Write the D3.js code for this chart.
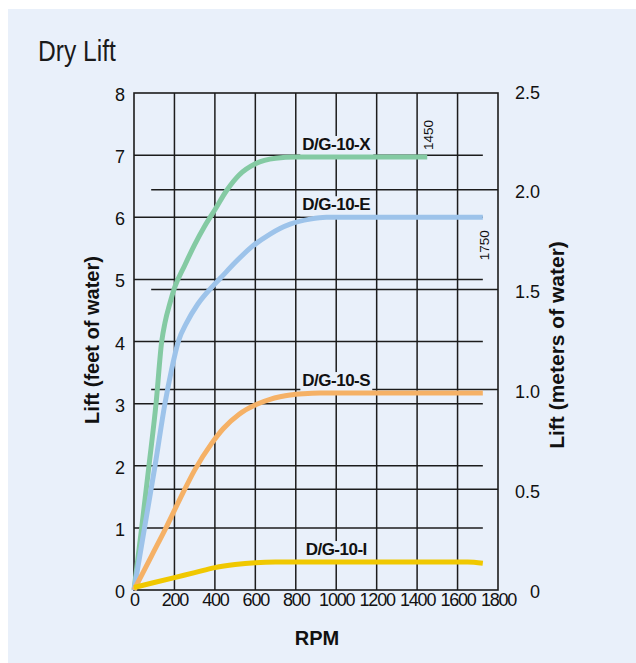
<!DOCTYPE html>
<html><head><meta charset="utf-8">
<script src="https://cdn.jsdelivr.net/npm/d3@7"></script>
<style>
html,body{margin:0;padding:0;background:#fff;}
svg{display:block;font-family:"Liberation Sans",Arial,Helvetica,sans-serif;}
</style></head>
<body>
<svg id="chart" width="636" height="663"></svg>
<script>
// ---- data ----
const rpmTicks = [0,200,400,600,800,1000,1200,1400,1600,1800];
const feetTicks = [0,1,2,3,4,5,6,7,8];
const meterTicks = [0,0.5,1.0,1.5,2.0,2.5];

const seriesNames = ["D/G-10-X","D/G-10-E","D/G-10-S","D/G-10-I"];
const seriesColors = ["#84caa3","#9dc3ea","#f5b166","#f0c800"];

const rpmX  = [0,38,74,109,137,153,178,200,250,300,350,400,458,520,600,700,800,1450];
const liftX = [0,1.0,2.0,3.0,4.0,4.3,4.62,4.86,5.22,5.56,5.86,6.12,6.43,6.68,6.86,6.95,6.97,6.97];

const rpmE  = [0,52,104,153,186,219,260,315,392,430,500,573,673,722,772,871,950,1725];
const liftE = [0,1.0,2.0,3.0,3.55,4.0,4.3,4.6,4.9,5.03,5.27,5.5,5.73,5.82,5.89,5.97,6.0,6.0];

const rpmS  = [0,87,158,228,300,384,442,520,607,673,722,772,838,920,1725];
const liftS = [0,0.55,1.0,1.47,1.93,2.36,2.6,2.83,2.99,3.07,3.11,3.14,3.16,3.17,3.17];

const rpmI  = [0,100,200,300,400,500,600,700,1000,1500,1650,1725];
const liftI = [0.04,0.12,0.2,0.28,0.36,0.41,0.44,0.45,0.45,0.45,0.45,0.43];

const endLabels = ["1450","1750"];

// ---- layout ----
const svg = d3.select("#chart");
const BG = "#e9f0fa", INK = "#1c1c1c";
const L = 134, R = 498, T = 93, B = 590;

svg.append("rect").attr("x",8).attr("y",9).attr("width",636-8).attr("height",663-9).attr("fill",BG);

const x = d3.scaleLinear().domain([0,1800]).range([L,R]);
const y = d3.scaleLinear().domain([0,8]).range([B,T]);
const ym = d3.scaleLinear().domain([0,2.5]).range([589,90]);

const gGrid = svg.append("g");
const gBox = svg.append("g");
const gCurve = svg.append("g");
const gText = svg.append("g");

// vertical grid
gGrid.selectAll("line.v").data(rpmTicks.slice(1,-1)).join("line")
  .attr("x1",d=>x(d)).attr("x2",d=>x(d)).attr("y1",T).attr("y2",B)
  .attr("stroke",INK).attr("stroke-width",1.5);
// feet grid
gGrid.selectAll("line.f").data(feetTicks.slice(1,-1)).join("line")
  .attr("x1",L).attr("x2",x(1725)).attr("y1",d=>y(d)).attr("y2",d=>y(d))
  .attr("stroke",INK).attr("stroke-width",1.5);
// meter grid
gGrid.selectAll("line.m").data(meterTicks.slice(1,-1)).join("line")
  .attr("x1",x(85)).attr("x2",R).attr("y1",d=>ym(d)).attr("y2",d=>ym(d))
  .attr("stroke",INK).attr("stroke-width",1.5);
// frame
gGrid.append("rect").attr("x",L).attr("y",T).attr("width",R-L).attr("height",B-T)
  .attr("fill","none").attr("stroke",INK).attr("stroke-width",1.6);

// axes (labels only)
const ax = svg.append("g").attr("transform",`translate(0,${B})`)
  .call(d3.axisBottom(x).tickValues(rpmTicks).tickSize(0).tickPadding(3).tickFormat(d3.format("d")));
ax.select(".domain").remove();
ax.selectAll("text").attr("font-size",18).attr("fill","#111").attr("letter-spacing","-1.2px")
  .attr("font-family","'Liberation Sans',Arial,sans-serif");

const ay = svg.append("g").attr("transform",`translate(${L},0)`)
  .call(d3.axisLeft(y).tickValues(feetTicks).tickSize(0).tickPadding(9).tickFormat(d3.format("d")));
ay.select(".domain").remove();
ay.selectAll("text").attr("font-size",18).attr("fill","#111").attr("dy","0.42em")
  .attr("font-family","'Liberation Sans',Arial,sans-serif");

const ar = svg.append("g").attr("transform",`translate(${R},0)`)
  .call(d3.axisRight(ym).tickValues(meterTicks).tickSize(0).tickPadding(0)
    .tickFormat(d=> d===0 ? "0" : d3.format(".1f")(d)));
ar.select(".domain").remove();
ar.selectAll("text").attr("font-size",18).attr("fill","#111").attr("dy","0.45em")
  .attr("text-anchor","end").attr("x",42)
  .attr("font-family","'Liberation Sans',Arial,sans-serif");

// curves
const series = [[rpmX,liftX],[rpmE,liftE],[rpmS,liftS],[rpmI,liftI]];
const line = d3.line().x(d=>x(d[0])).y(d=>y(d[1])).curve(d3.curveMonotoneX);
series.forEach((s,i)=>{
  const pts = s[0].map((r,k)=>[r,s[1][k]]);
  gCurve.append("path").attr("d",line(pts)).attr("fill","none")
    .attr("stroke",seriesColors[i]).attr("stroke-width",5).attr("stroke-linecap","butt")
    .attr("stroke-linejoin","round");
});

// series labels centred on the 1000 rpm line, above the flat part
series.forEach((s,i)=>{
  const flat = s[1][s[1].length-2];
  const t = gText.append("text").attr("x",x(1000)).attr("y",y(flat)-7)
    .attr("text-anchor","middle").attr("font-weight","bold").attr("font-size",17)
    .attr("letter-spacing","-0.5px").attr("fill","#111").text(seriesNames[i]);
  const bb = t.node().getBBox();
  gBox.append("rect").attr("x",bb.x-2).attr("y",bb.y+1).attr("width",bb.width+4).attr("height",bb.height+1)
    .attr("fill",BG);
});

// end rpm labels (rotated)
const endX = rpmX[rpmX.length-1], endXl = liftX[liftX.length-1];
gText.append("text").attr("transform",`translate(${x(endX)+6},${y(endXl)-22}) rotate(-90)`)
  .attr("text-anchor","middle").attr("font-size",13.5).attr("fill","#111").text(endLabels[0]);
const endE = rpmE[rpmE.length-1], endEl = liftE[liftE.length-1];
gText.append("text").attr("transform",`translate(${x(endE)+6},${y(endEl)+28}) rotate(-90)`)
  .attr("text-anchor","middle").attr("font-size",13.5).attr("fill","#111").text(endLabels[1]);

// titles
svg.append("text").attr("transform","translate(38,61) scale(0.82,1)")
  .attr("font-size",30).attr("fill","#1a1a1a").text("Dry Lift");
svg.append("text").attr("x",(L+R)/2+1).attr("y",645).attr("text-anchor","middle")
  .attr("font-weight","bold").attr("font-size",20).attr("fill","#111").text("RPM");
svg.append("text").attr("transform","translate(99,340) rotate(-90)").attr("text-anchor","middle")
  .attr("font-weight","bold").attr("font-size",20).attr("fill","#111").text("Lift (feet of water)");
svg.append("text").attr("transform","translate(564,345) rotate(-90)").attr("text-anchor","middle")
  .attr("font-weight","bold").attr("font-size",21).attr("fill","#111").text("Lift (meters of water)");
</script>
</body></html>
